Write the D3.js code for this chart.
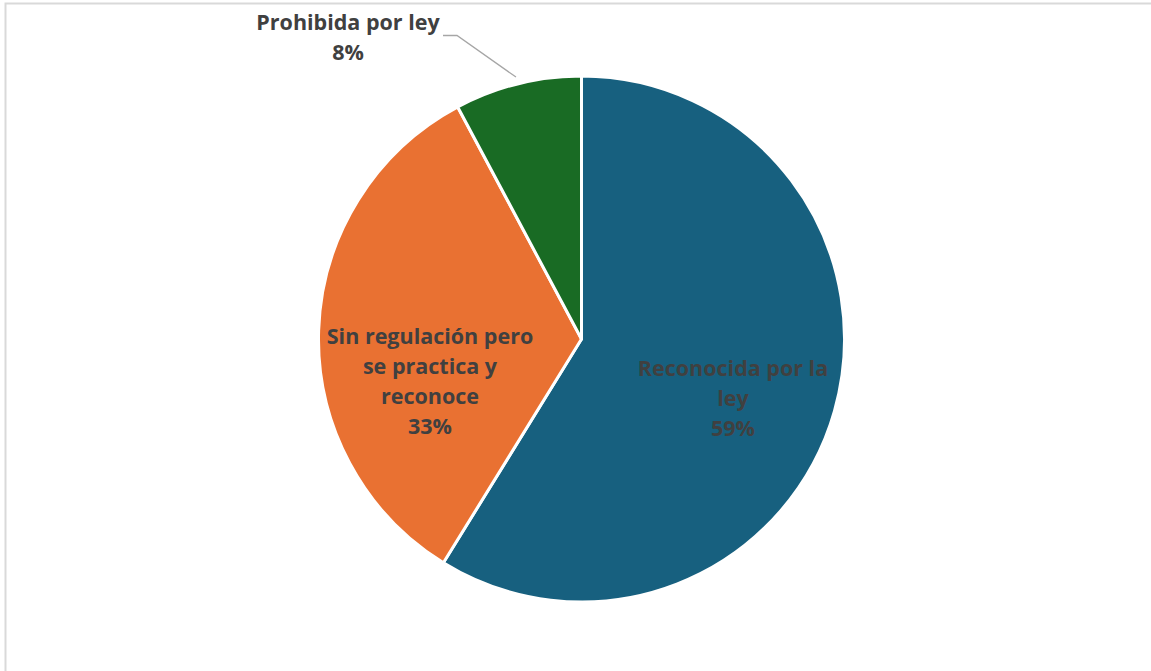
<!DOCTYPE html>
<html><head><meta charset="utf-8">
<script src="https://cdn.jsdelivr.net/npm/d3@7"></script>
<style>body{margin:0;background:#fff}svg{display:block}</style>
</head><body>
<script>
const categories = ["Reconocida por la ley", "Sin regulación pero se practica y reconoce", "Prohibida por ley"];
const values = [58.8, 33.4, 7.8];
const colors = ["#17607F", "#E97132", "#196B24"];
const labelLines = [["Reconocida por la", "ley"], ["Sin regulación pero", "se practica y", "reconoce"], ["Prohibida por ley"]];

const W = 1151, H = 671;
const svg = d3.select("body").append("svg").attr("width", W).attr("height", H);

// frame
svg.append("path").attr("d", `M5.5,${H} V3.5 H${W}`).attr("fill","none").attr("stroke","#d9d9d9").attr("stroke-width",2);

const cx = 581.5, cy = 339, r = 263;
const data = categories.map((c,i)=>({c, v: values[i], col: colors[i], lines: labelLines[i]}));
const pie = d3.pie().value(d=>d.v).sort(null);
const arcs = pie(data);
const arc = d3.arc().innerRadius(0).outerRadius(r);
const g = svg.append("g").attr("transform", `translate(${cx},${cy})`);
g.selectAll("path").data(arcs).join("path")
  .attr("d", arc).attr("fill", d=>d.data.col)
  .attr("stroke", "#fff").attr("stroke-width", 3).attr("stroke-linejoin","round");

const total = d3.sum(values);
const fmt = v => Math.round(v/total*100) + "%";
const font = "'Open Sans', sans-serif";
const lh = 30;

function drawLabel(x, y, lines, pct) {
  const t = svg.append("text").attr("text-anchor","middle").attr("font-family",font)
    .attr("font-weight",700).attr("font-size",21.5).attr("fill","#404040");
  lines.concat([pct]).forEach((s,i)=>{
    t.append("tspan").attr("x", x).attr("y", y + i*lh).attr("dominant-baseline","middle").text(s);
  });
}
// inside labels
drawLabel(733, 370, arcs[0].data.lines, fmt(values[0]));
drawLabel(430, 338, arcs[1].data.lines, fmt(values[1]));
// outside label
drawLabel(348, 24, arcs[2].data.lines, fmt(values[2]));

// leader line to the green slice
const mid = (arcs[2].startAngle + arcs[2].endAngle)/2;
const ex = cx + Math.sin(mid)*(r+7) , ey = cy - Math.cos(mid)*(r+7);
svg.append("polyline").attr("points", `443,35.5 457,35.5 ${ex},${ey}`)
  .attr("fill","none").attr("stroke","#a6a6a6").attr("stroke-width",1.3);
</script>
</body></html>
